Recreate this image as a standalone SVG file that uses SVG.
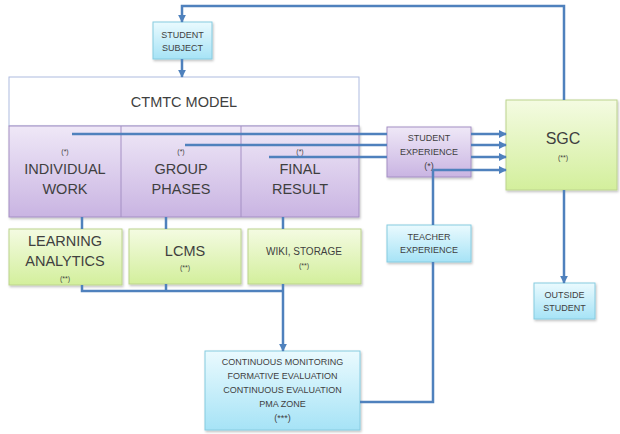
<svg xmlns="http://www.w3.org/2000/svg" width="620" height="434" viewBox="0 0 620 434">
<defs>
<linearGradient id="gPurple" x1="0" y1="0" x2="0" y2="1"><stop offset="0" stop-color="#efe8f7"/><stop offset="1" stop-color="#c9b4e2"/></linearGradient>
<linearGradient id="gGreen" x1="0" y1="0" x2="0" y2="1"><stop offset="0" stop-color="#f4fbe2"/><stop offset="1" stop-color="#d3ef9c"/></linearGradient>
<linearGradient id="gCyan" x1="0" y1="0" x2="0" y2="1"><stop offset="0" stop-color="#eafafe"/><stop offset="1" stop-color="#a6e3f6"/></linearGradient>
<filter id="sh" x="-10%" y="-10%" width="130%" height="130%"><feDropShadow dx="1" dy="1.5" stdDeviation="1" flood-color="#000" flood-opacity="0.25"/></filter>
<marker id="arr" viewBox="0 0 10 10" refX="9" refY="5" markerWidth="3.2" markerHeight="3.2" orient="auto" markerUnits="strokeWidth"><path d="M0,0 L10,5 L0,10 z" fill="#4f81bd"/></marker>
</defs>
<style>
text{font-family:"Liberation Sans",Arial,sans-serif;fill:#3f3f3f;text-anchor:middle}
.big{font-size:14.5px}
.sm{font-size:9px}
.xs{font-size:7px}
.purple{fill:url(#gPurple);stroke:#a48fc4;stroke-width:1}
.green{fill:url(#gGreen);stroke:#bcd38e;stroke-width:1;filter:url(#sh)}
.cyan{fill:url(#gCyan);stroke:#86cbe0;stroke-width:1;filter:url(#sh)}
.ln{fill:none;stroke:#4f81bd;stroke-width:2.5}
.ar{marker-end:url(#arr)}
</style>
<rect width="620" height="434" fill="#fff"/>

<g id="ctmtc-model">
<rect x="9" y="77" width="350" height="49" fill="#fff" stroke="#aebbe0" stroke-width="1"/>
<text class="big" x="184" y="107">CTMTC MODEL</text>
<rect x="9" y="126" width="350" height="91" class="purple" filter="url(#sh)"/>
<line x1="121" y1="126" x2="121" y2="217" stroke="#a48fc4"/>
<line x1="241" y1="126" x2="241" y2="217" stroke="#a48fc4"/>
</g>
<g id="individual-work">
<text class="xs" x="65" y="154">(*)</text>
<text class="big" x="65" y="174">INDIVIDUAL</text>
<text class="big" x="65" y="194">WORK</text>
</g>
<g id="group-phases">
<text class="xs" x="181" y="154">(*)</text>
<text class="big" x="181" y="174">GROUP</text>
<text class="big" x="181" y="194">PHASES</text>
</g>
<g id="final-result">
<text class="xs" x="300" y="154">(*)</text>
<text class="big" x="300" y="174">FINAL</text>
<text class="big" x="300" y="194">RESULT</text>
</g>

<g id="student-subject">
<rect x="153" y="22" width="59" height="37" class="cyan"/>
<text class="sm" x="182.5" y="38">STUDENT</text>
<text class="sm" x="182.5" y="51">SUBJECT</text>
</g>

<g id="student-experience">
<rect x="387" y="127" width="84" height="50" class="purple" filter="url(#sh)"/>
<text class="sm" x="429" y="141">STUDENT</text>
<text class="sm" x="429" y="155">EXPERIENCE</text>
<text class="sm" x="429" y="169">(*)</text>
</g>

<g id="sgc">
<rect x="506" y="100" width="111" height="90" class="green"/>
<text x="563" y="144" style="font-size:16px">SGC</text>
<text class="xs" x="563" y="160">(**)</text>
</g>

<g id="outside-student">
<rect x="534" y="283" width="61" height="36" class="cyan"/>
<text class="sm" x="564.5" y="298">OUTSIDE</text>
<text class="sm" x="564.5" y="311">STUDENT</text>
</g>

<g id="teacher-experience">
<rect x="387" y="225" width="84" height="37" class="cyan"/>
<text class="sm" x="429" y="240">TEACHER</text>
<text class="sm" x="429" y="253">EXPERIENCE</text>
</g>

<g id="learning-analytics">
<rect x="9" y="229" width="113" height="56" class="green"/>
<text class="big" x="65" y="246">LEARNING</text>
<text class="big" x="65" y="266">ANALYTICS</text>
<text class="xs" x="65" y="281">(**)</text>
</g>
<g id="lcms">
<rect x="129" y="229" width="112" height="55" class="green"/>
<text class="big" x="185" y="256">LCMS</text>
<text class="xs" x="185" y="270">(**)</text>
</g>
<g id="wiki-storage">
<rect x="248" y="229" width="113" height="55" class="green"/>
<text x="304" y="255" style="font-size:10px">WIKI, STORAGE</text>
<text class="xs" x="304" y="268">(**)</text>
</g>

<g id="monitoring">
<rect x="205" y="351" width="155" height="79" class="cyan"/>
<text class="sm" x="282.5" y="365">CONTINUOUS MONITORING</text>
<text class="sm" x="282.5" y="379">FORMATIVE  EVALUATION</text>
<text class="sm" x="282.5" y="393">CONTINUOUS EVALUATION</text>
<text class="sm" x="282.5" y="407">PMA ZONE</text>
<text class="sm" x="282.5" y="421">(***)</text>
</g>

<g id="connectors">
<polyline class="ln ar" points="564,100 564,6 182,6 182,22"/>
<line class="ln ar" x1="182" y1="59" x2="182" y2="77"/>
<line class="ln" x1="72" y1="134" x2="387" y2="134"/>
<line class="ln ar" x1="471" y1="134" x2="506" y2="134"/>
<line class="ln" x1="185" y1="145" x2="387" y2="145"/>
<line class="ln ar" x1="471" y1="145" x2="506" y2="145"/>
<line class="ln" x1="269" y1="157" x2="387" y2="157"/>
<line class="ln ar" x1="471" y1="157" x2="506" y2="157"/>
<polyline class="ln ar" points="433,225 433,170 506,170"/>
<polyline class="ln" points="433,262 433,402 360,402"/>
<line class="ln ar" x1="564" y1="190" x2="564" y2="283"/>
<line class="ln" x1="82" y1="217" x2="82" y2="229"/>
<line class="ln" x1="166" y1="217" x2="166" y2="229"/>
<line class="ln" x1="283" y1="217" x2="283" y2="229"/>
<polyline class="ln" points="82,285 82,291 283,291"/>
<line class="ln" x1="166" y1="284" x2="166" y2="291"/>
<line class="ln ar" x1="283" y1="284" x2="283" y2="351"/>
</g>
</svg>
